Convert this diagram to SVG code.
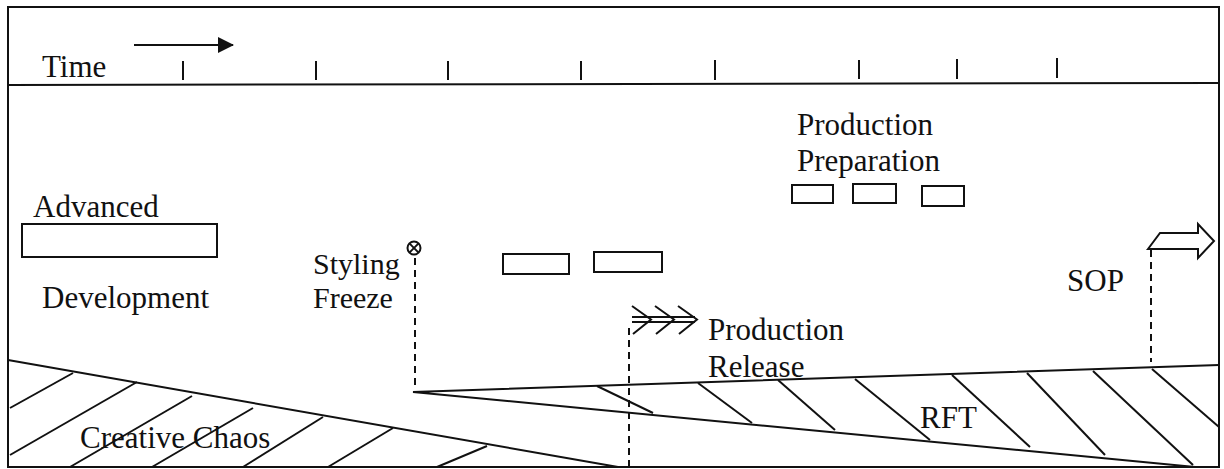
<svg xmlns="http://www.w3.org/2000/svg" width="1224" height="469" viewBox="0 0 1224 469">
<defs>
<style>
.t{font-family:"Liberation Serif","Times New Roman",serif;font-size:31px;fill:#111}
.s{font-size:30px}
.ln{stroke:#111;stroke-width:2;fill:none}
.bx{stroke:#111;stroke-width:2;fill:#fff}
.ds{stroke:#111;stroke-width:2;fill:none;stroke-dasharray:7,5}
</style>
<marker id="ah" markerWidth="16" markerHeight="16" refX="15" refY="8" orient="auto" markerUnits="userSpaceOnUse">
<path d="M0,0 L16,8 L0,16 Z" fill="#111"/>
</marker>
</defs>
<rect width="1224" height="469" fill="#fff"/>
<g id="frame">
<rect x="8" y="7" width="1211" height="460" class="ln"/>
<line x1="8" y1="85" x2="1219" y2="83" class="ln"/>
</g>
<g id="timeline">
<text x="42" y="77" class="t">Time</text>
<line x1="134" y1="45" x2="233" y2="45" class="ln" marker-end="url(#ah)"/>
<g class="ln">
<line x1="183" y1="61" x2="183" y2="80"/>
<line x1="316" y1="61" x2="316" y2="80"/>
<line x1="448" y1="61" x2="448" y2="80"/>
<line x1="581" y1="61" x2="581" y2="80"/>
<line x1="715" y1="60" x2="715" y2="80"/>
<line x1="859" y1="60" x2="859" y2="79"/>
<line x1="957" y1="59" x2="957" y2="79"/>
<line x1="1057" y1="58" x2="1057" y2="78"/>
</g>
</g>
<g id="advanced-development">
<text x="33" y="217" class="t">Advanced</text>
<rect x="22" y="224" width="195" height="33" class="bx"/>
<text x="42" y="308" class="t">Development</text>
</g>
<g id="styling-freeze">
<text x="313" y="274" class="t s">Styling</text>
<text x="313" y="308" class="t s">Freeze</text>
<circle cx="414" cy="248" r="6.5" class="ln"/>
<line x1="409.4" y1="243.4" x2="418.6" y2="252.6" class="ln"/>
<line x1="418.6" y1="243.4" x2="409.4" y2="252.6" class="ln"/>
</g>
<g id="mid-boxes">
<rect x="503" y="254" width="66" height="20" class="bx"/>
<rect x="594" y="252" width="68" height="20" class="bx"/>
</g>
<g id="production-preparation">
<text x="797" y="135" class="t">Production</text>
<text x="797" y="171" class="t">Preparation</text>
<rect x="792" y="185" width="41" height="18" class="bx"/>
<rect x="853" y="184" width="43" height="19" class="bx"/>
<rect x="922" y="186" width="42" height="20" class="bx"/>
</g>
<g id="production-release">
<text x="708" y="340" class="t">Production</text>
<text x="708" y="377" class="t">Release</text>
</g>
<g id="sop">
<text x="1067" y="291" class="t">SOP</text>
</g>
<g id="creative-chaos">
<line x1="8" y1="360" x2="618" y2="467" class="ln"/>
<g class="ln">
<line x1="10" y1="408" x2="73" y2="373"/>
<line x1="10" y1="455" x2="137" y2="382"/>
<line x1="70" y1="467" x2="192" y2="396"/>
<line x1="152" y1="467" x2="253" y2="408"/>
<line x1="243" y1="467" x2="323" y2="417"/>
<line x1="328" y1="467" x2="393" y2="428"/>
<line x1="437" y1="467" x2="487" y2="446"/>
</g>
<text x="80" y="448" class="t">Creative Chaos</text>
</g>
<g id="rft">
<polyline points="1219,365 413,392 1195,467" class="ln"/>
<g class="ln">
<line x1="597" y1="386" x2="653" y2="413"/>
<line x1="698" y1="383" x2="752" y2="423"/>
<line x1="778" y1="380" x2="835" y2="430"/>
<line x1="855" y1="379" x2="930" y2="440"/>
<line x1="952" y1="375" x2="1030" y2="447"/>
<line x1="1027" y1="373" x2="1105" y2="455"/>
<line x1="1093" y1="371" x2="1193" y2="465"/>
<line x1="1152" y1="369" x2="1219" y2="427"/>
</g>
<text x="920" y="428" class="t">RFT</text>
</g>
<g id="connectors">
<line x1="415" y1="258" x2="415" y2="390" class="ds"/>
<line x1="629" y1="328" x2="629" y2="467" class="ds"/>
<line x1="1151" y1="250" x2="1151" y2="362" class="ds"/>
<g class="ln">
<line x1="632" y1="317" x2="695" y2="317"/>
<line x1="632" y1="322" x2="695" y2="322"/>
<polyline points="632,306 651,319.5 633,334"/>
<polyline points="655,306 674,319.5 656,334"/>
<polyline points="678,306 697,319.5 679,334"/>
</g>
<path d="M1148,249 L1160,233 L1198,233 L1198,224 L1214,241 L1198,258 L1198,249 Z" class="ln"/>
</g>
</svg>
